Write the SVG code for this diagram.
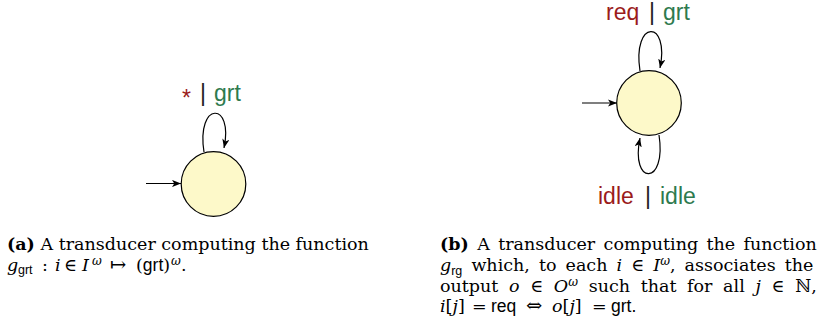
<svg xmlns="http://www.w3.org/2000/svg" width="818" height="332" viewBox="0 0 818 332">
<defs>
<marker id="arr" viewBox="0 0 10 8" refX="10" refY="4" markerWidth="9" markerHeight="7.2" markerUnits="userSpaceOnUse" orient="auto">
<path d="M0,0 L10,4 L0,8 L2.5,4 z" fill="#000"/>
</marker>
</defs>
<style>
.st{fill:#fdf9c9;stroke:#000;stroke-width:1.2}
.ed{fill:none;stroke:#000;stroke-width:1.2}
.lb{font-family:"Liberation Sans",Arial,sans-serif;font-size:23px}
.in{fill:#9b1b1b}
.out{fill:#2e7a4e}
.bar{fill:#222}
.cap{font-family:"DejaVu Serif","Liberation Serif",serif;font-size:17.5px;fill:#000}
.b{font-weight:bold}
.it{font-style:italic}
.sf{font-family:"Liberation Sans",Arial,sans-serif}
.sub{font-family:"Liberation Sans",Arial,sans-serif;font-size:12.5px}
.sup{font-style:italic;font-size:12px}
.big{font-size:19.5px}
</style>
<g id="connectors">
<line class="ed" x1="146" y1="183.5" x2="181" y2="183.5" marker-end="url(#arr)"/>
<path class="ed" d="M204,152 C196,101 234,101 224,148" marker-end="url(#arr)"/>
<line class="ed" x1="582" y1="103" x2="617" y2="103" marker-end="url(#arr)"/>
<path class="ed" d="M640,71 C632,19 670,19 660,68" marker-end="url(#arr)"/>
<path class="ed" d="M659,135 C667,186 630,186 640,138" marker-end="url(#arr)"/>
</g>
<g id="node-a">
<circle class="st" cx="213.5" cy="184" r="32.3"/>
</g>
<g id="node-b">
<circle class="st" cx="649" cy="103" r="32.3"/>
</g>
<g id="labels">
<text class="lb in" x="182" y="106">*</text>
<text class="lb bar" x="200" y="101">|</text>
<text class="lb out" x="214" y="101">grt</text>
<text class="lb in" x="606" y="20">req</text>
<text class="lb bar" x="649" y="20">|</text>
<text class="lb out" x="663" y="20">grt</text>
<text class="lb in" x="598" y="204">idle</text>
<text class="lb bar" x="645" y="204">|</text>
<text class="lb out" x="660" y="204">idle</text>
</g>
<g id="caption-a" class="cap">
<text x="7" y="250"><tspan class="b">(a)</tspan> A transducer computing the function</text>
<text y="270.5"><tspan class="it" x="7">g</tspan><tspan class="sub" x="18" y="274">grt</tspan><tspan x="42" y="270.5">:</tspan><tspan class="it" x="55">i</tspan><tspan x="64">∈</tspan><tspan class="it" x="82">I</tspan><tspan class="sup" x="92" y="265">ω</tspan><tspan class="big" x="110" y="270.5">↦</tspan><tspan x="136">(</tspan><tspan class="sf">grt</tspan><tspan>)</tspan><tspan class="sup" dx="1" y="265">ω</tspan><tspan y="270.5">.</tspan></text>
</g>
<g id="caption-b" class="cap">
<text x="440" y="250" word-spacing="2.8"><tspan class="b">(b)</tspan> A transducer computing the function</text>
<text x="440" y="271" word-spacing="3.5"><tspan class="it">g</tspan><tspan class="sub" dy="3.5">rg</tspan><tspan dy="-3.5"> which, to each </tspan><tspan class="it">i</tspan> ∈ <tspan class="it">I</tspan><tspan class="sup" dy="-6">ω</tspan><tspan dy="6">, associates the</tspan></text>
<text x="440" y="292" word-spacing="5.1">output <tspan class="it">o</tspan> ∈ <tspan class="it">O</tspan><tspan class="sup" dy="-6">ω</tspan><tspan dy="6"> such that for all </tspan><tspan class="it">j</tspan> ∈ ℕ,</text>
<text y="312"><tspan class="it" x="440">i</tspan><tspan>[</tspan><tspan class="it">j</tspan><tspan>]</tspan><tspan x="472">=</tspan><tspan class="sf" x="491">req</tspan><tspan class="big" x="526">⇔</tspan><tspan class="it" x="552">o</tspan><tspan>[</tspan><tspan class="it">j</tspan><tspan>]</tspan><tspan x="592">=</tspan><tspan class="sf" x="611">grt.</tspan></text>
</g>
</svg>
